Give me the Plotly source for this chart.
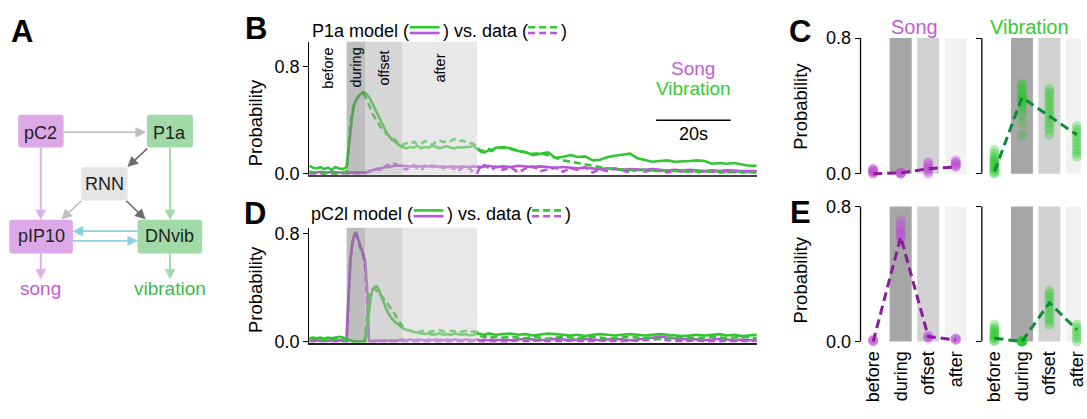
import plotly.graph_objects as go

W, H = 1087, 419
FONT = "Liberation Sans, Arial, Helvetica, sans-serif"

def px(x):
    return x / W

def py(y):
    return 1 - y / H

# ---------------- data ----------------
# time grid (s)
T = list(range(0, 10)) + [10 + 0.5 * i for i in range(25)] + list(range(23, 51)) + list(range(52, 121, 2))

# Panel B: P1a model
b_song_model = ([0.015, 0.01, 0.01, 0.015, 0.01, 0.01, 0.015, 0.01, 0.01, 0.01]
                + [0.01, 0.01, 0.005, 0.005, 0.005, 0.005, 0.005, 0.005, 0.005, 0.01, 0.01, 0.015, 0.02, 0.025, 0.025,
                   0.03, 0.035, 0.035, 0.04, 0.045, 0.045, 0.05, 0.05, 0.055, 0.055]
                + [0.06, 0.06, 0.065, 0.06, 0.055, 0.055, 0.05, 0.055, 0.05, 0.055, 0.06, 0.055, 0.05, 0.055, 0.05,
                   0.055, 0.05, 0.05, 0.055, 0.05, 0.05, 0.055, 0.05, 0.05, 0.055, 0.06, 0.055, 0.05]
                + [0.055, 0.05, 0.06, 0.055, 0.05, 0.055, 0.05, 0.045, 0.05, 0.045, 0.04, 0.045, 0.04, 0.035, 0.04,
                   0.035, 0.03, 0.035, 0.03, 0.03, 0.035, 0.03, 0.025, 0.03, 0.025, 0.03, 0.025, 0.02, 0.025, 0.02,
                   0.025, 0.02, 0.02, 0.02, 0.02])
b_song_data = ([0, 0, 0.005, 0, 0, 0.005, 0, 0, 0.005, 0]
               + [0, 0, 0, 0, 0, 0, 0, 0, 0, 0, 0.005, 0.01, 0.015, 0.02, 0.025, 0.03, 0.035, 0.04, 0.03, 0.045,
                  0.05, 0.06, 0.065, 0.055, 0.07]
               + [0.075, 0.06, 0.04, 0.03, 0.055, 0.065, 0.04, 0.025, 0.06, 0.07, 0.05, 0.065, 0.055, 0.04, 0.06,
                  0.05, 0.035, 0.02, 0.045, 0.06, 0.04, 0.01, 0.005, 0.06, 0.065, 0.045, 0.03, 0.055]
               + [0.03, 0.05, 0.01, 0.04, 0.055, 0.02, 0.035, 0.045, 0.015, 0.04, 0.03, 0.05, 0.01, 0.035, 0.02,
                  0.04, 0.025, 0.01, 0.03, 0.015, 0.03, 0.02, 0.01, 0.025, 0.015, 0.02, 0.01, 0.02, 0.015, 0.01,
                  0.015, 0.01, 0.01, 0.015, 0.01])
b_vib_model = ([0.06, 0.045, 0.04, 0.05, 0.035, 0.045, 0.03, 0.05, 0.04, 0.035]
               + [0.05, 0.16, 0.30, 0.43, 0.51, 0.55, 0.575, 0.59, 0.60, 0.61, 0.605, 0.59, 0.575, 0.55, 0.52, 0.50,
                  0.465, 0.44, 0.41, 0.38, 0.345, 0.32, 0.295, 0.28, 0.26]
               + [0.24, 0.215, 0.2, 0.19, 0.2, 0.195, 0.21, 0.19, 0.2, 0.195, 0.21, 0.2, 0.19, 0.2, 0.205, 0.195,
                  0.19, 0.2, 0.195, 0.2, 0.2, 0.21, 0.19, 0.165, 0.16, 0.175, 0.17, 0.195]
               + [0.2, 0.19, 0.17, 0.16, 0.14, 0.15, 0.16, 0.12, 0.125, 0.14, 0.125, 0.13, 0.1, 0.105, 0.125, 0.135,
                  0.14, 0.15, 0.115, 0.1, 0.09, 0.095, 0.1, 0.09, 0.09, 0.095, 0.1, 0.095, 0.075, 0.08, 0.075, 0.08,
                  0.07, 0.06, 0.06])
b_vib_data = ([0.01, 0.01, 0.005, 0.01, 0.0, 0.01, 0.005, 0.0, 0.01, 0.005]
              + [0.02, 0.2, 0.36, 0.46, 0.52, 0.55, 0.575, 0.59, 0.6, 0.6, 0.58, 0.55, 0.51, 0.48, 0.445, 0.42,
                 0.395, 0.375, 0.355, 0.335, 0.32, 0.305, 0.29, 0.285, 0.275]
              + [0.25, 0.225, 0.215, 0.23, 0.22, 0.24, 0.22, 0.225, 0.245, 0.23, 0.215, 0.24, 0.25, 0.235, 0.25,
                 0.245, 0.26, 0.24, 0.25, 0.235, 0.23, 0.225, 0.2, 0.17, 0.175, 0.185, 0.18, 0.19]
              + [0.195, 0.185, 0.17, 0.165, 0.15, 0.155, 0.14, 0.12, 0.1, 0.09, 0.08, 0.065, 0.06, 0.05, 0.04,
                 0.035, 0.03, 0.03, 0.025, 0.03, 0.025, 0.02, 0.025, 0.02, 0.02, 0.015, 0.02, 0.015, 0.02, 0.015,
                 0.01, 0.015, 0.01, 0.01, 0.01])

# Panel D: pC2l model
d_song_model = ([0.01, 0.005, 0.01, 0.005, 0.01, 0.005, 0.01, 0.005, 0.01, 0.005]
                + [0.02, 0.35, 0.6, 0.72, 0.79, 0.81, 0.77, 0.72, 0.68, 0.645, 0.6, 0.4, 0.01, 0.005, 0.005, 0.01,
                   0.005, 0.005, 0.01, 0.005, 0.005, 0.01, 0.005, 0.01, 0.01]
                + [0.01, 0.01, 0.015, 0.01, 0.015, 0.01, 0.015, 0.01, 0.01, 0.015, 0.01, 0.015, 0.01, 0.01, 0.015,
                   0.01, 0.015, 0.01, 0.01, 0.015, 0.01, 0.01, 0.015, 0.01, 0.015, 0.01, 0.015, 0.01]
                + [0.015, 0.01, 0.015, 0.02, 0.015, 0.01, 0.015, 0.02, 0.015, 0.01, 0.015, 0.02, 0.015, 0.01, 0.015,
                   0.02, 0.015, 0.01, 0.015, 0.02, 0.03, 0.035, 0.03, 0.02, 0.015, 0.02, 0.015, 0.01, 0.015, 0.02,
                   0.015, 0.01, 0.015, 0.01, 0.015])
d_song_data = ([0, 0, 0.005, 0, 0, 0, 0.005, 0, 0, 0]
               + [0.0, 0.3, 0.58, 0.72, 0.78, 0.79, 0.76, 0.71, 0.67, 0.63, 0.55, 0.3, 0.0, 0, 0, 0.005, 0, 0, 0.005,
                  0, 0, 0.005, 0, 0, 0.005]
               + [0, 0.005, 0, 0.005, 0, 0, 0.005, 0, 0.005, 0, 0, 0.005, 0, 0, 0.005, 0, 0, 0.005, 0, 0, 0.005, 0,
                  0, 0.005, 0, 0, 0.005, 0]
               + [0.005, 0, 0.01, 0, 0.005, 0.01, 0, 0.005, 0, 0.01, 0.005, 0, 0.005, 0.01, 0, 0.005, 0, 0.01, 0.005,
                  0.01, 0.015, 0.02, 0.01, 0.005, 0, 0.005, 0.01, 0, 0.005, 0, 0.005, 0, 0.005, 0, 0.005])
d_vib_model = ([0.025, 0.03, 0.025, 0.03, 0.02, 0.03, 0.025, 0.03, 0.035, 0.03]
               + [0.02, 0.01, 0.005, 0, 0, 0, 0, 0, 0, 0, 0.01, 0.12, 0.25, 0.33, 0.38, 0.405, 0.41, 0.395, 0.36,
                  0.32, 0.28, 0.25, 0.22, 0.2, 0.175]
               + [0.145, 0.12, 0.1, 0.085, 0.075, 0.07, 0.065, 0.06, 0.055, 0.06, 0.05, 0.055, 0.06, 0.05, 0.055,
                  0.05, 0.06, 0.055, 0.05, 0.055, 0.045, 0.05, 0.06, 0.055, 0.05, 0.06, 0.055, 0.05]
               + [0.055, 0.06, 0.05, 0.055, 0.045, 0.05, 0.06, 0.055, 0.05, 0.045, 0.05, 0.04, 0.05, 0.055, 0.05,
                  0.045, 0.05, 0.055, 0.05, 0.045, 0.05, 0.055, 0.05, 0.045, 0.04, 0.045, 0.05, 0.045, 0.05, 0.055,
                  0.045, 0.05, 0.04, 0.045, 0.05])
d_vib_data = ([0.015, 0.02, 0.015, 0.02, 0.01, 0.02, 0.015, 0.02, 0.015, 0.02]
              + [0.01, 0.005, 0, 0, 0, 0, 0, 0, 0, 0, 0, 0.2, 0.33, 0.375, 0.39, 0.39, 0.38, 0.36, 0.345, 0.33,
                 0.32, 0.3, 0.28, 0.26, 0.24]
              + [0.2, 0.15, 0.115, 0.09, 0.08, 0.075, 0.07, 0.075, 0.08, 0.07, 0.075, 0.08, 0.085, 0.075, 0.07,
                 0.08, 0.075, 0.07, 0.075, 0.08, 0.07, 0.075, 0.07, 0.04, 0.035, 0.04, 0.03, 0.035]
              + [0.03, 0.035, 0.03, 0.025, 0.035, 0.03, 0.02, 0.03, 0.035, 0.03, 0.025, 0.03, 0.035, 0.03, 0.02,
                 0.025, 0.03, 0.035, 0.03, 0.025, 0.03, 0.02, 0.025, 0.03, 0.035, 0.03, 0.025, 0.03, 0.035, 0.03,
                 0.025, 0.03, 0.035, 0.03, 0.025])

# epochs (s)
epochs = ["before", "during", "offset", "after"]
epoch_start = [0, 10, 15, 25]
epoch_end = [10, 15, 25, 45]

# Panels C / E: per-epoch probabilities (model runs) and data means
c_song_runs = [[0.0, 0.004, 0.008, 0.012, 0.016, 0.02, 0.025, 0.03],
               [0.0, 0.002, 0.004, 0.006, 0.008],
               [0.0, 0.01, 0.02, 0.03, 0.035, 0.04, 0.05, 0.06, 0.07],
               [0.04, 0.045, 0.05, 0.055, 0.06, 0.065, 0.07, 0.08]]
c_song_data = [0.0, 0.005, 0.03, 0.04]
c_vib_runs = [[0.0, 0.01, 0.02, 0.03, 0.04, 0.05, 0.06, 0.07, 0.08, 0.09, 0.1, 0.12, 0.14],
              [0.23, 0.3, 0.35, 0.38, 0.4, 0.42, 0.43, 0.44, 0.45, 0.46, 0.47, 0.48, 0.5, 0.52, 0.53],
              [0.23, 0.26, 0.28, 0.3, 0.32, 0.34, 0.36, 0.38, 0.4, 0.42, 0.44, 0.46, 0.48, 0.5],
              [0.1, 0.12, 0.14, 0.16, 0.18, 0.2, 0.22, 0.24, 0.26, 0.28]]
c_vib_data = [0.013, 0.45, 0.34, 0.23]
e_song_runs = [[0.0, 0.004, 0.008, 0.012],
               [0.6, 0.62, 0.63, 0.64, 0.65, 0.66, 0.68, 0.7, 0.72],
               [0.02, 0.025, 0.03, 0.035],
               [0.01, 0.012, 0.015, 0.02]]
e_song_data = [0.0, 0.62, 0.03, 0.01]
e_vib_runs = [[0.0, 0.01, 0.02, 0.03, 0.04, 0.05, 0.06, 0.07, 0.08, 0.1],
              [0.0, 0.0, 0.0, 0.0, 0.0, 0.0, 0.0, 0.0],
              [0.1, 0.12, 0.14, 0.16, 0.18, 0.2, 0.22, 0.24, 0.26, 0.28, 0.3],
              [0.0, 0.02, 0.04, 0.06, 0.08, 0.1]]
e_vib_data = [0.02, 0.0, 0.23, 0.07]

# ---------------- style ----------------
PURPLE = "#b955d8"
GREEN = "#33c633"
PURPLE_DOT = "rgba(190,80,215,0.33)"
GREEN_DOT = "rgba(40,200,40,0.33)"
PURPLE_DASH = "#8a1b9c"
GREEN_DASH = "#0b8b3b"
SHADE_TS = ["rgba(125,125,125,0.5)", "rgba(173,173,173,0.5)", "rgba(209,209,209,0.5)"]
SHADE_BAR = ["#a6a6a6", "#d2d2d2", "#f2f2f2"]

fig = go.Figure()


def txt(x, y, s, size=18, color="black", xanchor="center", yanchor="middle", angle=0, bold=False):
    fig.add_annotation(x=px(x), y=py(y), xref="paper", yref="paper",
                       text=f"<b>{s}</b>" if bold else s, showarrow=False,
                       font=dict(size=size, color=color, family=FONT),
                       xanchor=xanchor, yanchor=yanchor, textangle=angle, borderpad=0)


def pline(x0, y0, x1, y1, color, w=2, dash=None):
    fig.add_shape(type="line", xref="paper", yref="paper", x0=px(x0), y0=py(y0), x1=px(x1), y1=py(y1),
                  line=dict(color=color, width=w, dash=dash))


def rrect(x0, y0, x1, y1, color, r=3):
    p = (f"M {px(x0 + r)},{py(y0)} L {px(x1 - r)},{py(y0)} Q {px(x1)},{py(y0)} {px(x1)},{py(y0 + r)} "
         f"L {px(x1)},{py(y1 - r)} Q {px(x1)},{py(y1)} {px(x1 - r)},{py(y1)} "
         f"L {px(x0 + r)},{py(y1)} Q {px(x0)},{py(y1)} {px(x0)},{py(y1 - r)} "
         f"L {px(x0)},{py(y0 + r)} Q {px(x0)},{py(y0)} {px(x0 + r)},{py(y0)} Z")
    fig.add_shape(type="path", xref="paper", yref="paper", path=p, fillcolor=color, line=dict(width=0))


def arrow(x0, y0, x1, y1, color, w=1.8, L=10, hw=5):
    dx, dy = x1 - x0, y1 - y0
    d = (dx * dx + dy * dy) ** 0.5
    ux, uy = dx / d, dy / d
    bx, by = x1 - L * ux, y1 - L * uy
    nx, ny = -uy, ux
    pline(x0, y0, bx + ux, by + uy, color, w)
    p = (f"M {px(x1)},{py(y1)} L {px(bx + hw * nx)},{py(by + hw * ny)} "
         f"L {px(bx - hw * nx)},{py(by - hw * ny)} Z")
    fig.add_shape(type="path", xref="paper", yref="paper", path=p, fillcolor=color,
                  line=dict(color=color, width=0.5))


# ---------------- Panel A (diagram) ----------------
C_PUR_BOX = "#dca8e8"
C_GRN_BOX = "#a2daa7"
arrow(64, 131, 146.5, 131, "#bbbbbb", 1.6)
arrow(41, 147, 41, 221.5, "#ddb0e8", 2)
arrow(171, 147, 171, 221.5, "#a2daa7", 2)
arrow(148, 148, 128.5, 166.5, "#6b6b6b", 1.6)
arrow(82, 202, 62, 221, "#bdbdbd", 1.6)
arrow(127, 202, 146, 221, "#6b6b6b", 1.6)
arrow(138.3, 233.5, 73.3, 233.5, "#8dd0e3", 1.8, L=10, hw=5)
arrow(73.3, 243.5, 138.3, 243.5, "#8dd0e3", 1.8, L=10, hw=5)
arrow(41, 256.5, 41, 283, "#ddb0e8", 2)
arrow(171, 256.5, 171, 283, "#a2daa7", 2)
rrect(18.3, 112.7, 64, 146.7, C_PUR_BOX)
rrect(147.7, 112.7, 194, 146.7, C_GRN_BOX)
rrect(81.7, 167.3, 128.3, 201.7, "#e5e5e5")
rrect(9.3, 221.7, 73.3, 256.7, C_PUR_BOX)
rrect(138.3, 221.7, 203.3, 256.7, C_GRN_BOX)
txt(41.2, 131.5, "pC2", 18, "#222222")
txt(170.8, 131.5, "P1a", 18, "#222222")
txt(105, 184.5, "RNN", 18, "#222222")
txt(41.3, 239, "pIP10", 18, "#222222")
txt(170.8, 239, "DNvib", 18, "#222222")
txt(41, 292.5, "song", 19, "#c05cd6")
txt(171, 292.5, "vibration", 19, "#3dbb48")

# ---------------- Panels B and D (time series) ----------------
for xa, ya, series in [("x", "y", [(b_song_model, PURPLE, "solid"), (b_song_data, PURPLE, "7px,4px"),
                                    (b_vib_model, GREEN, "solid"), (b_vib_data, GREEN, "7px,4px")]),
                       ("x2", "y2", [(d_song_model, PURPLE, "solid"), (d_song_data, PURPLE, "7px,4px"),
                                     (d_vib_model, GREEN, "solid"), (d_vib_data, GREEN, "7px,4px")])]:
    for vals, col, dash in series:
        fig.add_trace(go.Scatter(x=T, y=vals, mode="lines", line=dict(color=col, width=2.6, dash=dash),
                                 xaxis=xa, yaxis=ya, showlegend=False, hoverinfo="skip"))
    for k in range(1, 4):
        fig.add_shape(type="rect", xref=xa, yref=f"{ya} domain", x0=epoch_start[k], x1=epoch_end[k],
                      y0=0, y1=1, fillcolor=SHADE_TS[k - 1], line=dict(width=0), layer="above")

# epoch labels in B
for k in range(4):
    xc = 311 + 3.75 * (epoch_start[k] + epoch_end[k]) / 2
    txt(xc, 64, epochs[k], 14.5, "black", angle=-90)

# titles with double-line keys
def title_with_keys(x_left, y_c, name):
    t1 = f"{name} model ("
    fs = 18
    w_em = {"P1a": 5.391, "pC2l": 5.668}[name]
    x = x_left
    txt(x, y_c, t1, fs, "black", xanchor="left")
    x += w_em * fs + 1
    pline(x + 1, y_c - 3.5, x + 31, y_c - 3.5, GREEN, 2.6)
    pline(x + 1, y_c + 2.5, x + 31, y_c + 2.5, PURPLE, 2.6)
    x += 33
    txt(x, y_c, ") vs. data (", fs, "black", xanchor="left")
    x += 4.724 * fs + 1
    pline(x + 1, y_c - 3.5, x + 31, y_c - 3.5, GREEN, 2.6, "7px,4px")
    pline(x + 1, y_c + 2.5, x + 31, y_c + 2.5, PURPLE, 2.6, "7px,4px")
    x += 33
    txt(x, y_c, ")", fs, "black", xanchor="left")


title_with_keys(313, 25.5, "P1a")
title_with_keys(312, 215.5, "pC2l")

# legend text and scale bar in B
txt(697, 64.5, "Song", 19, "#c05cd6")
txt(697, 86, "Vibration", 19, "#33cc33")
fig.add_shape(type="line", xref="x", yref="paper", x0=93, x1=113, y0=py(118.5), y1=py(118.5),
              line=dict(color="black", width=1.3))
txt(311 + 3.75 * 103, 133, "20s", 18)

# ---------------- Panels C and E (epoch summaries) ----------------
panels = [("x3", "y3", c_song_runs, c_song_data, PURPLE_DOT, PURPLE_DASH),
          ("x4", "y4", c_vib_runs, c_vib_data, GREEN_DOT, GREEN_DASH),
          ("x5", "y5", e_song_runs, e_song_data, PURPLE_DOT, PURPLE_DASH),
          ("x6", "y6", e_vib_runs, e_vib_data, GREEN_DOT, GREEN_DASH)]
for xa, ya, runs, means, dotc, dashc in panels:
    for k in range(1, 4):
        fig.add_shape(type="rect", xref=xa, yref=ya, x0=k - 0.4, x1=k + 0.4, y0=0, y1=0.8,
                      fillcolor=SHADE_BAR[k - 1], line=dict(width=0), layer="below")
    xs, ys = [], []
    for k, r in enumerate(runs):
        xs += [k] * len(r)
        ys += r
    fig.add_trace(go.Scatter(x=xs, y=ys, mode="markers", marker=dict(size=10, color=dotc, line=dict(width=0)),
                             xaxis=xa, yaxis=ya, showlegend=False, hoverinfo="skip"))
    fig.add_trace(go.Scatter(x=list(range(4)), y=means, mode="lines",
                             line=dict(color=dashc, width=3, dash="9px,5px"),
                             xaxis=xa, yaxis=ya, showlegend=False, hoverinfo="skip"))
    fig.add_shape(type="line", xref=f"{xa} domain", yref=ya, x0=0, x1=0, y0=0, y1=0.8,
                  line=dict(color="black", width=1.3))

txt(920, 22, "Song", 20, "#c05cd6")
txt(1035, 22, "Vibration", 20, "#33cc33")

# panel letters & y titles
for L, x, y in [("A", 22.5, 26), ("B", 257, 23.5), ("C", 804, 26), ("D", 256, 215), ("E", 805, 214)]:
    txt(x, y, L, 31, "black", bold=True)
txt(257, 121, "Probability", 18.5, angle=-90)
txt(257, 294, "Probability", 18.5, angle=-90)
txt(805, 104, "Probability", 18.5, angle=-90)
txt(805, 284, "Probability", 18.5, angle=-90)

# ---------------- axes ----------------
hid = dict(showgrid=False, zeroline=False, showticklabels=False, ticks="")
ytick = dict(showgrid=False, zeroline=False, ticks="outside", ticklen=5, tickwidth=1.3, tickcolor="black",
             tickvals=[0, 0.8], ticktext=["0.0", "0.8"], tickfont=dict(size=18, family=FONT, color="black"))
ytick_nolab = {k: v for k, v in ytick.items() if k not in ("ticktext", "tickfont")}
xcat = dict(showgrid=False, zeroline=False, ticks="", tickvals=[0, 1, 2, 3], ticktext=epochs, tickangle=-90,
            ticklabeloverflow="allow", tickfont=dict(size=18, family=FONT, color="black"))

fig.update_layout(
    width=W, height=H, margin=dict(l=0, r=0, t=0, b=0), autosize=False,
    paper_bgcolor="white", plot_bgcolor="rgba(0,0,0,0)", showlegend=False,
    font=dict(family=FONT, color="black"),
    xaxis=dict(domain=[px(311), px(761)], range=[0, 120], anchor="y", showline=True, linecolor="#444444",
               linewidth=2, **hid),
    yaxis=dict(domain=[py(175), py(37)], range=[-0.0072, 0.987], anchor="x", showline=True,
               linecolor="black", linewidth=1.3, **ytick),
    xaxis2=dict(domain=[px(311), px(761)], range=[0, 120], anchor="y2", showline=True, linecolor="#222222",
                linewidth=2, **hid),
    yaxis2=dict(domain=[py(349), py(230)], range=[-0.0072, 0.843], anchor="x2", showline=True,
                linecolor="black", linewidth=1.3, **ytick),
    xaxis3=dict(domain=[px(865.3), px(974.9)], range=[-0.46, 3.5], anchor="y3", **hid),
    yaxis3=dict(domain=[py(179.3), py(29.8)], range=[-0.03, 0.82], anchor="x3", **ytick),
    xaxis4=dict(domain=[px(987.3), 1.0], range=[-0.46, 3.15], anchor="y4", **hid),
    yaxis4=dict(domain=[py(179.3), py(29.8)], range=[-0.03, 0.82], anchor="x4", showticklabels=False,
                **ytick_nolab),
    xaxis5=dict(domain=[px(865.3), px(974.9)], range=[-0.46, 3.5], anchor="y5", **xcat),
    yaxis5=dict(domain=[py(353.3), py(204.5)], range=[-0.03, 0.82], anchor="x5", **ytick),
    xaxis6=dict(domain=[px(987.3), 1.0], range=[-0.46, 3.15], anchor="y6", **xcat),
    yaxis6=dict(domain=[py(353.3), py(204.5)], range=[-0.03, 0.82], anchor="x6", showticklabels=False,
                **ytick_nolab),
)

fig.write_html(
    "out.html", config={"displayModeBar": False},
    post_script=("document.documentElement.style.overflow='hidden';"
                 "document.body.style.margin='0';document.body.style.overflow='hidden';"
                 "var gd=document.getElementsByClassName('plotly-graph-div')[0];"
                 "if(gd){gd.style.overflow='hidden';gd.style.width='1087px';gd.style.height='419px';}"))
